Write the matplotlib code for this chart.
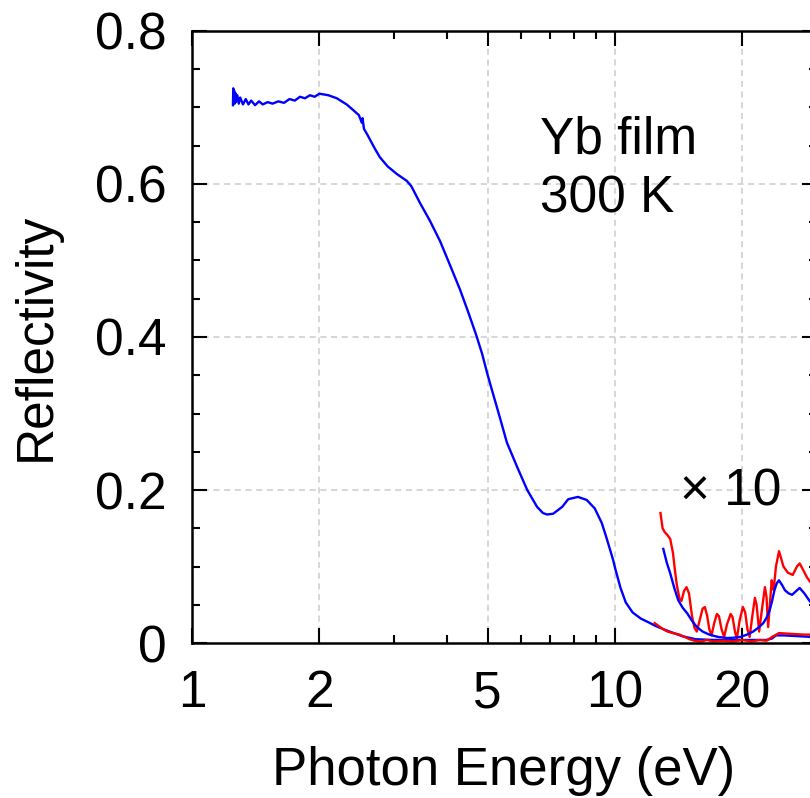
import numpy as np
import matplotlib
matplotlib.use('Agg')
import matplotlib.pyplot as plt
from matplotlib.ticker import FixedLocator, NullFormatter

plt.rcParams['font.family'] = ['Liberation Sans', 'DejaVu Sans']

# main reflectivity spectrum (Yb film, 300 K)
e_main = [1.25, 1.252, 1.255, 1.258, 1.262, 1.266, 1.27, 1.28, 1.29, 1.30, 1.32, 1.34,
          1.36, 1.38, 1.41, 1.44, 1.47, 1.51, 1.55, 1.6, 1.65, 1.7, 1.75, 1.8, 1.85, 1.9, 1.95, 2.0,
          2.1, 2.2, 2.32, 2.4, 2.48, 2.52, 2.53, 2.55, 2.6, 2.7, 2.78, 2.9, 3.05,
          3.22, 3.3, 3.46, 3.65, 3.86, 4.1, 4.3, 4.5, 4.7, 4.85, 5.0, 5.17, 5.34, 5.55, 5.87,
          6.2, 6.54, 6.75, 6.9, 7.14, 7.5, 7.75, 8.17, 8.57, 8.95, 9.3, 9.55, 9.9, 10.0,
          10.3, 10.6, 11.0, 11.5, 12.0, 12.5, 13.3, 14.4, 15.5, 17.0, 19.8, 22.8, 23.5,
          24.0, 25.0, 27.0, 29.0, 30.0]
r_main = [0.703, 0.725, 0.706, 0.722, 0.705, 0.719, 0.707, 0.716, 0.705, 0.713, 0.704, 0.711,
          0.704, 0.709, 0.703, 0.708, 0.704, 0.707, 0.705, 0.708, 0.706, 0.711, 0.709, 0.714, 0.712, 0.716, 0.714, 0.718,
          0.716, 0.712, 0.704, 0.697, 0.690, 0.680, 0.686, 0.672, 0.664, 0.647, 0.635, 0.623, 0.613,
          0.604, 0.597, 0.575, 0.552, 0.525, 0.490, 0.462, 0.432, 0.402, 0.378, 0.350, 0.322, 0.295, 0.262, 0.230,
          0.200, 0.178, 0.170, 0.168, 0.169, 0.178, 0.188, 0.191, 0.187, 0.176, 0.157, 0.137, 0.108, 0.098,
          0.072, 0.053, 0.040, 0.032, 0.027, 0.022, 0.016, 0.009, 0.005, 0.004, 0.004, 0.004, 0.006,
          0.010, 0.010, 0.009, 0.008, 0.008]

# second measurement (red), actual scale
e_red = [12.4, 12.7, 13.0, 13.3, 13.7, 14.2, 14.6, 15.0, 15.4, 16.0, 16.5, 17.0, 18.0, 19.0,
         20.0, 21.0, 22.0, 22.8, 23.5, 24.4, 26.0, 28.0, 30.0]
r_red = [0.026, 0.022, 0.018, 0.015, 0.013, 0.011, 0.008, 0.005, 0.003, 0.002, 0.004, 0.002, 0.003, 0.002,
         0.004, 0.002, 0.004, 0.003, 0.008, 0.013, 0.012, 0.011, 0.011]

# magnified (x10) curves
e_red10 = [12.8, 12.95, 13.1, 13.3, 13.5, 13.7, 13.85, 14.0, 14.2, 14.35, 14.55, 14.75, 14.95,
           15.2, 15.4, 15.6, 15.85, 16.1, 16.3, 16.5, 16.7, 16.9, 17.15, 17.4, 17.6, 17.85,
           18.1, 18.4, 18.75, 18.95, 19.2, 19.4, 19.7, 20.05, 20.3, 20.55, 20.8, 21.1, 21.4,
           21.6, 21.9, 22.25, 22.6, 22.8, 23.0, 23.25, 23.45, 23.6, 23.75, 24.0, 24.4, 24.7,
           25.0, 25.6, 26.3, 26.9, 27.3, 27.8, 28.4, 28.9, 30.0]
r_red10 = [0.170, 0.150, 0.145, 0.141, 0.136, 0.118, 0.095, 0.075, 0.058, 0.055, 0.068, 0.073, 0.065,
           0.035, 0.020, 0.015, 0.030, 0.045, 0.047, 0.036, 0.018, 0.010, 0.026, 0.038, 0.035, 0.018,
           0.008, 0.025, 0.038, 0.034, 0.015, 0.006, 0.030, 0.047, 0.040, 0.018, 0.008, 0.035, 0.059,
           0.050, 0.015, 0.045, 0.073, 0.060, 0.021, 0.055, 0.082, 0.070, 0.075, 0.100, 0.120, 0.110,
           0.100, 0.092, 0.089, 0.100, 0.104, 0.096, 0.086, 0.080, 0.075]

e_blue10 = [13.0, 13.25, 13.5, 13.8, 14.1, 14.45, 14.8, 15.2, 15.6, 16.1, 16.7, 17.5, 18.4,
            19.1, 19.8, 20.5, 21.2, 21.8, 22.4, 22.8, 23.2, 23.5, 23.8, 24.1, 24.4, 24.8,
            25.2, 25.7, 26.2, 26.8, 27.3, 28.0, 28.9, 30.0]
r_blue10 = [0.123, 0.105, 0.091, 0.072, 0.056, 0.046, 0.039, 0.029, 0.021, 0.015, 0.011, 0.008, 0.0065,
            0.007, 0.008, 0.011, 0.015, 0.020, 0.026, 0.033, 0.043, 0.055, 0.069, 0.078, 0.082, 0.076,
            0.069, 0.065, 0.063, 0.068, 0.072, 0.065, 0.054, 0.050]

x_major = [1, 2, 5, 10, 20]
x_minor = [3, 4, 6, 7, 8, 9, 30]
y_major = [0, 0.2, 0.4, 0.6, 0.8]
y_labels = ['0', '0.2', '0.4', '0.6', '0.8']

fig = plt.figure(figsize=(8.10, 7.98), dpi=100)
ax = fig.add_axes([0.237, 0.1942, 0.7716, 0.767])

for xv in [2, 5, 10, 20]:
    ax.axvline(xv, color='#cccccc', lw=1.1, dashes=(4, 3), zorder=0)
for yv in [0.2, 0.4, 0.6]:
    ax.axhline(yv, color='#cccccc', lw=1.1, dashes=(4, 3), zorder=0)

ax.plot(e_main, r_main, color='#0000ff', lw=1.7)
ax.plot(e_red, r_red, color='#ff0000', lw=1.7)
ax.plot(e_red10, r_red10, color='#ff0000', lw=1.7)
ax.plot(e_blue10, r_blue10, color='#0000ff', lw=1.7)

ax.set_xscale('log')
ax.set_xlim(1, 30)
ax.set_ylim(0, 0.8)
ax.xaxis.set_major_locator(FixedLocator(x_major))
ax.xaxis.set_minor_locator(FixedLocator(x_minor))
ax.set_xticklabels([str(v) for v in x_major])
ax.xaxis.set_minor_formatter(NullFormatter())
ax.yaxis.set_major_locator(FixedLocator(y_major))
ax.yaxis.set_minor_locator(FixedLocator(np.arange(0, 0.81, 0.05)))
ax.set_yticklabels(y_labels)

ax.tick_params(which='both', direction='in', top=True, right=True, width=1.5, labelsize=37)
ax.tick_params(which='major', length=11)
ax.tick_params(which='minor', length=6)
ax.tick_params(axis='x', pad=19)
ax.tick_params(axis='y', pad=18)
for sp in ax.spines.values():
    sp.set_linewidth(1.8)

ax.text(6.65, 0.640, 'Yb film', fontsize=37, va='baseline', ha='left')
ax.text(6.65, 0.563, '300 K', fontsize=37, va='baseline', ha='left')
ax.text(14.25, 0.180, '× 10', fontsize=37, va='baseline', ha='left')

fig.text(504 / 810, 1 - 785 / 798, 'Photon Energy (eV)', fontsize=38, ha='center', va='baseline')
fig.text(36 / 810, 1 - 337 / 798, 'Reflectivity', fontsize=37, ha='center', va='center', rotation=90)

fig.savefig('out.png', dpi=100)
